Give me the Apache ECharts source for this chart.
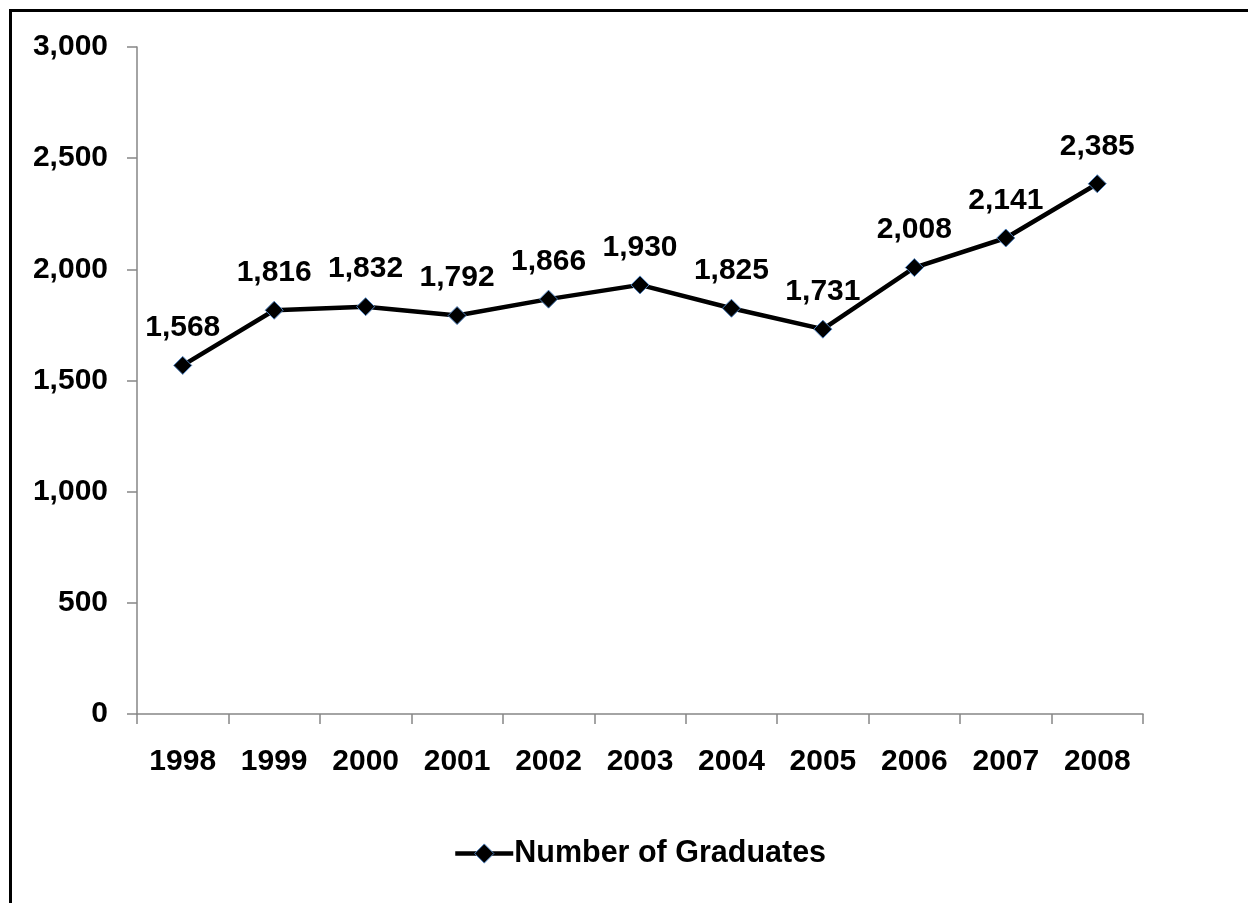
<!DOCTYPE html>
<html>
<head>
<meta charset="utf-8">
<script src="https://cdn.jsdelivr.net/npm/echarts@6/dist/echarts.min.js"></script>
<style>
html,body{margin:0;padding:0;background:#fff;}
#chart{width:1248px;height:903px;}
#frame{position:absolute;left:9px;top:9px;width:1300px;height:1000px;border-left:3px solid #000;border-top:3px solid #000;pointer-events:none;}
</style>
</head>
<body>
<div id="chart"></div>
<div id="frame"></div>
<script>
const years = ['1998','1999','2000','2001','2002','2003','2004','2005','2006','2007','2008'];
const graduates = [1568, 1816, 1832, 1792, 1866, 1930, 1825, 1731, 2008, 2141, 2385];
const seriesName = 'Number of Graduates';
const yMin = 0, yMax = 3000, yStep = 500;

const fmt = v => Number(v).toLocaleString('en-US');
const font = '"Liberation Sans", Arial, sans-serif';
const txt = {fontFamily: font, fontSize: 30, fontWeight: 'bold', color: '#000'};
const chart = echarts.init(document.getElementById('chart'), null, {renderer: 'canvas'});
chart.setOption({
  backgroundColor: 'transparent',
  animation: false,
  grid: {left: 137, right: 105, top: 47, bottom: 189},
  legend: {
    data: [seriesName],
    left: 448, top: 833,
    itemWidth: 58, itemHeight: 24, itemGap: 4,
    lineStyle: {width: 4.5, color: '#000'},
    itemStyle: {color: '#000', borderColor: '#4f81bd', borderWidth: 1},
    textStyle: Object.assign({}, txt, {fontSize: 30.5, padding: [0,0,0,-4]})
  },
  xAxis: {
    type: 'category',
    data: years,
    boundaryGap: true,
    axisLine: {lineStyle: {color: '#868686', width: 1.5}},
    axisTick: {show: true, length: 10, lineStyle: {color: '#868686', width: 1.5}},
    axisLabel: Object.assign({}, txt, {margin: 33})
  },
  yAxis: {
    type: 'value',
    min: yMin, max: yMax, interval: yStep,
    axisLine: {show: true, lineStyle: {color: '#868686', width: 1.5}},
    axisTick: {show: true, length: 10, lineStyle: {color: '#868686', width: 1.5}},
    splitLine: {show: false},
    axisLabel: Object.assign({}, txt, {margin: 29, formatter: fmt})
  },
  series: [{
    name: seriesName,
    type: 'line',
    data: graduates,
    symbol: 'diamond',
    symbolSize: 18,
    lineStyle: {color: '#000', width: 4.5},
    itemStyle: {color: '#000', borderColor: '#4f81bd', borderWidth: 1},
    label: Object.assign({}, txt, {
      show: true, position: 'top', distance: 13,
      formatter: p => fmt(p.value)
    })
  }]
});
</script>
</body>
</html>
